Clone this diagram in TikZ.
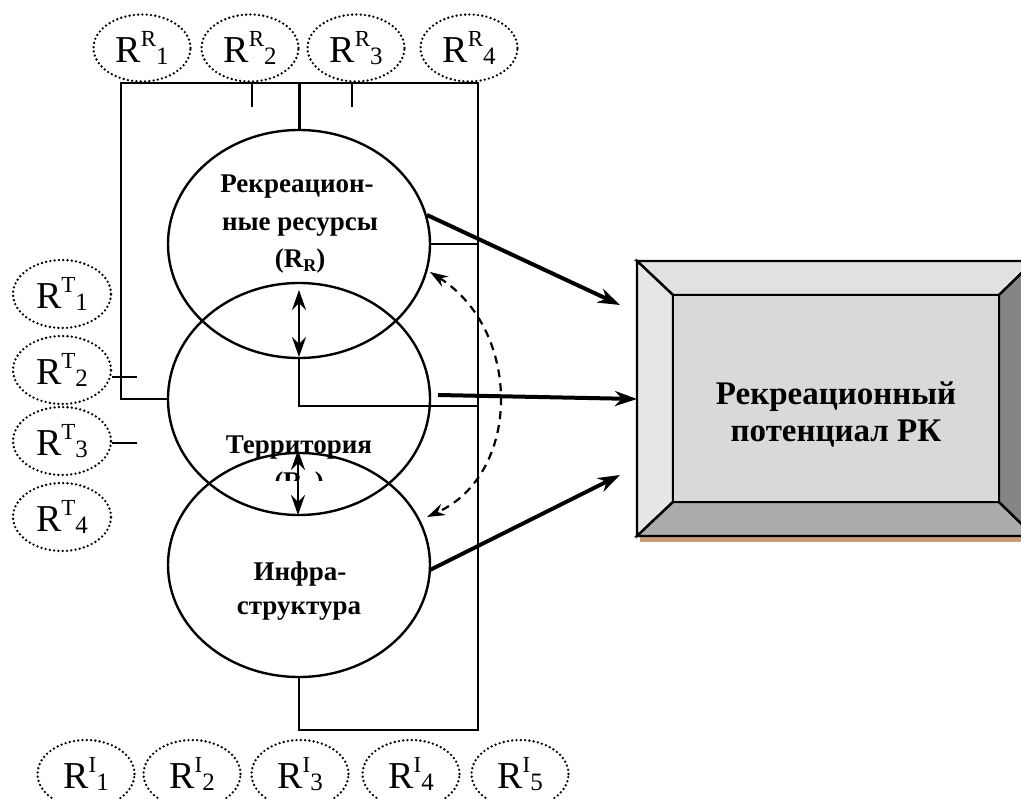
\documentclass[tikz,border=0pt]{standalone}
\usepackage{fontspec}
\setmainfont{Liberation Serif}
\usetikzlibrary{shapes.geometric,arrows.meta}

% R with a superscript and a following subscript
\newcommand\Rlab[2]{R\raisebox{16pt}{\fontsize{23}{23}\selectfont #1}\raisebox{-2pt}{\fontsize{25}{25}\selectfont #2}}
\newcommand\Rsub[1]{(R\raisebox{-4pt}{\fontsize{18}{18}\selectfont #1})}

\tikzset{
  resfig/.style={ellipse, draw, line width=2.6pt, dash pattern=on 0pt off 4.3pt,
    line cap=round, minimum width=97pt, minimum height=67pt, inner sep=0pt,
    font=\fontsize{38}{38}\selectfont},
  bigell/.style={ellipse, draw, line width=2.4pt, minimum width=262pt, inner sep=0pt},
  elltext/.style={font=\bfseries\fontsize{27}{27}\selectfont, anchor=base, inner sep=0pt},
  boxtext/.style={font=\bfseries\fontsize{33}{33}\selectfont, anchor=base, inner sep=0pt},
  bus/.style={line width=2.4pt},
  tick/.style={line width=1.6pt},
  thickarr/.style={line width=4pt, -{Stealth[length=22pt,width=15pt,inset=7pt]}},
  duo/.style={line width=2.4pt, {Stealth[length=20pt,width=14pt,inset=7pt]}-{Stealth[length=20pt,width=14pt,inset=7pt]}},
  dasharr/.style={line width=2.2pt, dash pattern=on 8pt off 6pt,
    {Stealth[length=18pt,width=12pt,inset=6pt]}-{Stealth[length=18pt,width=12pt,inset=6pt]}},
  bevel/.style={draw, line width=2.4pt, line join=miter},
}

\begin{document}
\begin{tikzpicture}[x=1pt,y=-1pt]
\useasboundingbox (0,0) rectangle (1021,799);
\clip (0,0) rectangle (1021,799);

% ---- three main ellipses ----
\node[bigell, minimum height=228pt] (RR) at (299,244) {};
\node[bigell, minimum height=232pt] (T)  at (299,399) {};
\node[bigell, minimum height=224pt] (I)  at (299,565) {};

% ---- dotted resource ellipses ----
\node[resfig] (rr1) at (142,48) {\Rlab{R}{1}};
\node[resfig] (rr2) at (250,48) {\Rlab{R}{2}};
\node[resfig] (rr3) at (356,48) {\Rlab{R}{3}};
\node[resfig] (rr4) at (469,48) {\Rlab{R}{4}};

\node[resfig, minimum width=98pt, minimum height=68pt] (rt1) at (62,294) {\Rlab{T}{1}};
\node[resfig, minimum width=98pt, minimum height=68pt] (rt2) at (62,370) {\Rlab{T}{2}};
\node[resfig, minimum width=98pt, minimum height=68pt] (rt3) at (62,441) {\Rlab{T}{3}};
\node[resfig, minimum width=98pt, minimum height=68pt] (rt4) at (62,517) {\Rlab{T}{4}};

\node[resfig, minimum height=68pt] (ri1) at (86,774)  {\Rlab{I}{1}};
\node[resfig, minimum height=68pt] (ri2) at (192,774) {\Rlab{I}{2}};
\node[resfig, minimum height=68pt] (ri3) at (300,774) {\Rlab{I}{3}};
\node[resfig, minimum height=68pt] (ri4) at (411,774) {\Rlab{I}{4}};
\node[resfig, minimum height=68pt] (ri5) at (520,774) {\Rlab{I}{5}};

% ---- bus lines ----
\coordinate (tl) at (121,83);
\coordinate (tr) at (478,83);
\coordinate (tc) at (299,83);
\coordinate (br) at (478,730);
\coordinate (bc) at (299,730);
\coordinate (tk1) at (252,83);
\coordinate (tk2) at (352,83);

\draw[bus] (T.west) -| (tl) -- (tr) -- (br) -- (bc) -- (I.south);
\draw[line width=3pt] (RR.north) -- (tc);
\draw[tick] (tk1) -- ++(0,24);
\draw[tick] (tk2) -- ++(0,24);
\draw[tick] ([yshift=-7pt]rt2.east) -- ++(25,0);
\draw[tick] ([yshift=-2pt]rt3.east) -- ++(25,0);
\draw[bus] (RR.east) -- (RR.east -| tr);
\coordinate (tmid) at (299,406);
\draw[bus] (RR.south) -- (tmid) -- (tmid -| tr);

% ---- texts inside the ellipses ----
\node[elltext] (rr-a) at (297,193) {Рекреацион-};
\node[elltext] (rr-b) at (300,231) {ные ресурсы};
\node[elltext] (rr-c) at (300,268) {\Rsub{R}};
\node[elltext] (t-a)  at (299,454) {Территория};
\begin{scope}
  \clip (200,440) rectangle (400,481);
  \node[elltext] (t-b) at (299,491) {\Rsub{T}};
\end{scope}
\node[elltext] (i-a) at (300,580) {Инфра-};
\node[elltext] (i-b) at (299,615) {структура};

% ---- links between the ellipses ----
\coordinate (d1a) at (299,290);
\coordinate (d1b) at (299,357);
\coordinate (d2a) at (298,450);
\coordinate (d2b) at (298,515);
\draw[duo] (d1a) -- (d1b);
\draw[duo] (d2a) -- (d2b);
\coordinate (ca) at (430,272);
\coordinate (cb) at (427,517);
\draw[dasharr] (ca) .. controls (522,330) and (522,474) .. (cb);

% ---- bevelled box ----
\coordinate (o1) at (637,261);
\coordinate (o2) at (1034,261);
\coordinate (o3) at (1034,536);
\coordinate (o4) at (637,536);
\coordinate (i1) at (673,295);
\coordinate (i2) at (999,295);
\coordinate (i3) at (999,502);
\coordinate (i4) at (673,502);
\fill[fill={rgb,255:red,201;green,157;blue,122}] (640,536) rectangle (1034,542);
\draw[bevel, fill={rgb,255:red,225;green,225;blue,225}] (o1) -- (o2) -- (i2) -- (i1) -- cycle;
\draw[bevel, fill={rgb,255:red,230;green,230;blue,230}] (o1) -- (i1) -- (i4) -- (o4) -- cycle;
\draw[bevel, fill={rgb,255:red,171;green,171;blue,171}] (o4) -- (i4) -- (i3) -- (o3) -- cycle;
\draw[bevel, fill={rgb,255:red,133;green,133;blue,133}] (o2) -- (o3) -- (i3) -- (i2) -- cycle;
\draw[bevel, fill={rgb,255:red,217;green,217;blue,217}] (i1) rectangle (i3);
\node[boxtext] (pot-a) at (836,405) {Рекреационный};
\node[boxtext] (pot-b) at (836,442) {потенциал РК};

% ---- arrows into the box ----
\coordinate (a1s) at (427,215);
\coordinate (a1e) at (620,305);
\coordinate (a2s) at (438,395);
\coordinate (a2e) at (637,399);
\coordinate (a3s) at (430,570);
\coordinate (a3e) at (620,475);
\draw[thickarr] (a1s) -- (a1e);
\draw[thickarr] (a2s) -- (a2e);
\draw[thickarr] (a3s) -- (a3e);
\end{tikzpicture}
\end{document}
